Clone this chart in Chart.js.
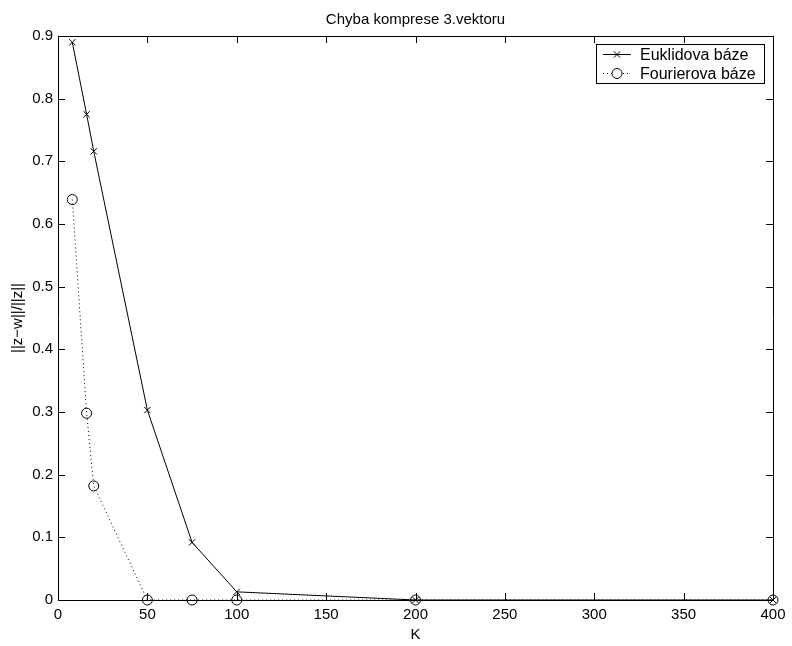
<!DOCTYPE html>
<html>
<head>
<meta charset="utf-8">
<script src="https://cdn.jsdelivr.net/npm/chart.js@4/dist/chart.umd.min.js"></script>
<style>
  html, body { margin: 0; padding: 0; background: #fff; }
  #wrap { width: 792px; height: 646px; }
</style>
</head>
<body>
<div id="wrap"><canvas id="c" width="792" height="646"></canvas></div>
<script>
const TITLE = 'Chyba komprese 3.vektoru';
const X_LABEL = 'K';
const Y_LABEL = '||z\u2212w||/||z||';
const SERIES_NAMES = ['Euklidova báze', 'Fourierova báze'];
const K_EUK = [8, 16, 20, 50, 75, 100, 200, 400];
const ERR_EUK = [0.890, 0.775, 0.716, 0.303, 0.092, 0.013, 0, 0];
const K_FOU = [8, 16, 20, 50, 75, 100, 200, 400];
const ERR_FOU = [0.639, 0.298, 0.182, 0, 0, 0, 0, 0];
const X_TICKS = [0, 50, 100, 150, 200, 250, 300, 350, 400];
const Y_TICKS = [0, 0.1, 0.2, 0.3, 0.4, 0.5, 0.6, 0.7, 0.8, 0.9];

const FONT = '"Liberation Sans", Arial, Helvetica, sans-serif';

const boxPlugin = {
  id: 'matlabBox',
  afterDatasetsDraw(chart) {
    const ctx = chart.ctx;
    const a = chart.chartArea;
    const xs = chart.scales.x, ys = chart.scales.y;
    ctx.save();
    ctx.strokeStyle = '#000';
    ctx.lineWidth = 1;
    ctx.beginPath();
    ctx.rect(Math.round(a.left) + 0.5, Math.round(a.top) + 0.5,
             Math.round(a.right) - Math.round(a.left), Math.round(a.bottom) - Math.round(a.top));
    ctx.stroke();
    const L = 7;
    ctx.beginPath();
    xs.ticks.forEach(t => {
      const px = Math.round(xs.getPixelForValue(t.value)) + 0.5;
      ctx.moveTo(px, a.bottom); ctx.lineTo(px, a.bottom - L);
      ctx.moveTo(px, a.top); ctx.lineTo(px, a.top + L);
    });
    ys.ticks.forEach(t => {
      const py = Math.round(ys.getPixelForValue(t.value)) + 0.5;
      ctx.moveTo(a.left, py); ctx.lineTo(a.left + L, py);
      ctx.moveTo(a.right, py); ctx.lineTo(a.right - L, py);
    });
    ctx.stroke();

    // Title and axis labels
    ctx.fillStyle = '#000';
    ctx.font = '15px ' + FONT;
    ctx.textAlign = 'center';
    ctx.textBaseline = 'alphabetic';
    ctx.fillText(TITLE, (a.left + a.right) / 2, 24);
    ctx.fillText(X_LABEL, (a.left + a.right) / 2, 639);
    ctx.save();
    ctx.translate(22, (a.top + a.bottom) / 2);
    ctx.rotate(-Math.PI / 2);
    ctx.fillText(Y_LABEL, 0, 0);
    ctx.restore();

    // Legend
    const lx = 596, ly = 44, lw = 168, lh = 39;
    ctx.fillStyle = '#fff';
    ctx.fillRect(lx, ly, lw, lh);
    ctx.strokeStyle = '#000';
    ctx.lineWidth = 1;
    ctx.strokeRect(lx + 0.5, ly + 0.5, lw, lh);
    chart.data.datasets.forEach((ds, i) => {
      const y = ly + 10.5 + i * 19;
      ctx.save();
      ctx.strokeStyle = ds.borderColor;
      ctx.lineWidth = ds.borderWidth;
      ctx.setLineDash(ds.borderDash || []);
      ctx.beginPath();
      ctx.moveTo(603, y); ctx.lineTo(631, y);
      ctx.stroke();
      ctx.setLineDash([]);
      ctx.fillStyle = '#fff';
      ctx.strokeStyle = '#000';
      Chart.helpers.drawPoint(ctx, {
        pointStyle: ds.pointStyle, radius: ds.pointRadius,
        borderWidth: 1, rotation: 0
      }, 617, y);
      ctx.restore();
      ctx.fillStyle = '#000';
      ctx.font = '16px ' + FONT;
      ctx.textAlign = 'left';
      ctx.textBaseline = 'middle';
      ctx.fillText(ds.label, 640, y + 1);
    });
    ctx.restore();
  }
};

new Chart(document.getElementById('c'), {
  type: 'line',
  data: {
    datasets: [
      {
        label: SERIES_NAMES[0],
        data: K_EUK.map((k, i) => ({ x: k, y: ERR_EUK[i] })),
        borderColor: '#000', backgroundColor: 'transparent',
        borderWidth: 1, pointStyle: 'crossRot', pointRadius: 4.5,
        pointBorderColor: '#000', pointBorderWidth: 1,
        tension: 0, clip: false
      },
      {
        label: SERIES_NAMES[1],
        data: K_FOU.map((k, i) => ({ x: k, y: ERR_FOU[i] })),
        borderColor: '#000', backgroundColor: 'transparent',
        borderWidth: 1, borderDash: [1, 3], pointStyle: 'circle', pointRadius: 5,
        pointBorderColor: '#000', pointBackgroundColor: 'transparent', pointBorderWidth: 1,
        tension: 0, clip: false
      }
    ]
  },
  options: {
    responsive: false,
    animation: false,
    devicePixelRatio: 1,
    layout: { padding: { top: 36, right: 19, left: 0, bottom: 0 } },
    plugins: { legend: { display: false }, title: { display: false }, tooltip: { enabled: false } },
    scales: {
      x: {
        type: 'linear', min: 0, max: 400,
        afterBuildTicks: s => { s.ticks = X_TICKS.map(v => ({ value: v })); },
        afterFit: s => { s.height = 46; },
        grid: { display: false, drawTicks: false },
        border: { display: false },
        ticks: { color: '#000', font: { family: FONT, size: 15 }, padding: 6, maxRotation: 0,
                 callback: v => String(v) }
      },
      y: {
        type: 'linear', min: 0, max: 0.9,
        afterBuildTicks: s => { s.ticks = Y_TICKS.map(v => ({ value: v })); },
        afterFit: s => { s.width = 58; },
        grid: { display: false, drawTicks: false },
        border: { display: false },
        ticks: { color: '#000', font: { family: FONT, size: 15 }, padding: 5,
                 callback: v => String(+v.toFixed(1)) }
      }
    }
  },
  plugins: [boxPlugin]
});
</script>
</body>
</html>
